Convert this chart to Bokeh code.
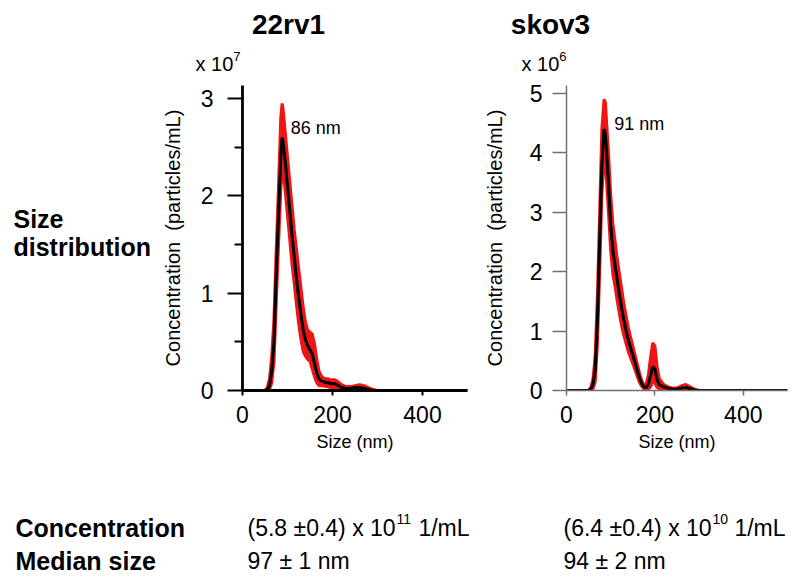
from bokeh.plotting import figure
from bokeh.layouts import row, column
from bokeh.models import Label, FixedTicker, Range1d
from bokeh.embed import file_html
from bokeh.resources import INLINE

# ---------------- data ----------------
size_nm = [0, 40, 50, 55, 60, 65, 70, 75, 80, 85, 88, 90, 95, 100, 105, 110, 115, 120, 125,
           130, 135, 140, 145, 150, 155, 160, 165, 170, 175, 180, 185, 190, 195, 200, 205,
           210, 220, 230, 240, 250, 260, 270, 280, 290, 300, 350, 400, 450, 500]

# 22rv1, concentration in units of 1e7 particles/mL
rv1_mean = [0, 0, 0, 0.01, 0.05, 0.2, 0.5, 1.2, 1.8, 2.4, 2.6, 2.55, 2.35, 2.1, 1.85, 1.6, 1.38, 1.15, 0.95,
            0.78, 0.62, 0.52, 0.46, 0.42, 0.37, 0.28, 0.18, 0.12, 0.1, 0.09, 0.08, 0.08, 0.07, 0.07, 0.07,
            0.06, 0.03, 0.02, 0.02, 0.03, 0.03, 0.02, 0.01, 0, 0, 0, 0, 0, 0]
rv1_hi = [0, 0, 0, 0.03, 0.12, 0.35, 0.75, 1.45, 2.1, 2.8, 2.95, 2.9, 2.65, 2.4, 2.15, 1.9, 1.65, 1.45, 1.25,
          1.05, 0.85, 0.7, 0.62, 0.6, 0.58, 0.48, 0.32, 0.2, 0.15, 0.13, 0.12, 0.12, 0.11, 0.11, 0.11,
          0.1, 0.06, 0.04, 0.04, 0.05, 0.06, 0.05, 0.03, 0.01, 0, 0, 0, 0, 0]
rv1_lo = [0, 0, 0, 0, 0.01, 0.08, 0.3, 0.9, 1.5, 2.05, 2.3, 2.25, 2.05, 1.8, 1.55, 1.3, 1.1, 0.88, 0.68,
          0.52, 0.4, 0.35, 0.32, 0.3, 0.22, 0.14, 0.08, 0.05, 0.05, 0.05, 0.04, 0.04, 0.03, 0.03, 0.03,
          0.03, 0.01, 0, 0, 0.01, 0.01, 0, 0, 0, 0, 0, 0, 0, 0]

# skov3, concentration in units of 1e6 particles/mL
sk_mean = [0, 0, 0, 0.03, 0.1, 0.35, 1.2, 2.5, 3.8, 4.4, 4.3, 4.1, 3.5, 2.8, 2.35, 2.1, 1.85, 1.6, 1.38,
           1.18, 1.0, 0.85, 0.72, 0.6, 0.47, 0.34, 0.22, 0.12, 0.06, 0.05, 0.1, 0.25, 0.4, 0.36, 0.18,
           0.1, 0.06, 0.04, 0.02, 0.02, 0.04, 0.05, 0.03, 0.01, 0, 0, 0, 0, 0]
sk_hi = [0, 0, 0, 0.05, 0.2, 0.6, 1.6, 3.0, 4.4, 4.9, 4.85, 4.6, 4.0, 3.3, 2.8, 2.5, 2.2, 1.95, 1.7,
         1.45, 1.25, 1.05, 0.9, 0.75, 0.6, 0.45, 0.3, 0.17, 0.1, 0.1, 0.25, 0.55, 0.8, 0.75, 0.4,
         0.2, 0.1, 0.06, 0.04, 0.04, 0.08, 0.1, 0.06, 0.02, 0, 0, 0, 0, 0]
sk_lo = [0, 0, 0, 0.01, 0.03, 0.15, 0.8, 2.0, 3.3, 3.9, 3.8, 3.6, 3.0, 2.35, 1.95, 1.75, 1.5, 1.28, 1.08,
         0.92, 0.78, 0.65, 0.55, 0.45, 0.35, 0.24, 0.14, 0.07, 0.03, 0.02, 0.02, 0.06, 0.15, 0.12, 0.05,
         0.03, 0.02, 0.01, 0, 0, 0.01, 0.02, 0.01, 0, 0, 0, 0, 0, 0]

x_ticks = [0, 200, 400]
rv1_yticks = [0, 1, 2, 3]
rv1_minor = [0.5, 1.5, 2.5]
sk_yticks = [0, 1, 2, 3, 4, 5]

titles = ["22rv1", "skov3"]
peak_labels = ["86 nm", "91 nm"]
y_exponents = ["7", "6"]
row_labels = ["Size", "distribution", "Concentration", "Median size"]
conc_mantissa = ["(5.8 \u00b10.4) x 10", "(6.4 \u00b10.4) x 10"]
conc_exponent = ["11", "10"]
conc_unit = "1/mL"
median_text = ["97 \u00b1 1 nm", "94 \u00b1 2 nm"]

FONT = "Liberation Sans"
RED = "#f01414"
TOP, BOTTOM = 9, 70          # shared frame borders of the middle row


def txt(p, x, y, text, size, style="normal", align="left", base="middle"):
    p.add_layout(Label(x=x, y=y, text=text, text_font=FONT,
                       text_font_size=f"{size}px", text_font_style=style,
                       text_align=align, text_baseline=base, text_color="black"))


def text_width(s, size):
    # Arial / Liberation Sans advance widths (em) for the characters used here
    w = {"(": .333, ")": .333, ".": .278, " ": .278, "\u00b1": .584, "x": .5, "/": .278,
         "m": .833, "L": .556}
    return sum(w.get(c, .556) for c in s) * size


def strip(width, height, x0, y0, top=0, bottom=0):
    # a text-only figure whose data coordinates equal picture pixel coordinates
    p = figure(width=width, height=height, output_backend="svg", toolbar_location=None,
               title=None, x_axis_location=None, y_axis_location=None,
               min_border_left=0, min_border_right=0, min_border_top=top, min_border_bottom=bottom,
               x_range=Range1d(x0, x0 + width), y_range=Range1d(y0 + height - bottom, y0 + top))
    p.outline_line_color = None
    p.grid.visible = False
    return p


def chart(width, left, right, ymax, axis_color, axis_w, tick_w, lab_standoff):
    p = figure(width=width, height=384, output_backend="svg", toolbar_location=None, title=None,
               x_range=Range1d(0, 500), y_range=Range1d(0, ymax),
               min_border_left=left, min_border_right=right,
               min_border_top=TOP, min_border_bottom=BOTTOM)
    p.outline_line_color = None
    p.grid.visible = False
    for ax in (p.xaxis[0], p.yaxis[0]):
        ax.axis_line_color = axis_color
        ax.axis_line_width = axis_w
        ax.major_tick_line_color = axis_color
        ax.major_tick_line_width = tick_w
        ax.major_tick_in = 0
        ax.minor_tick_line_color = None
        ax.major_label_text_font = FONT
        ax.major_label_text_color = "black"
        ax.major_label_text_font_size = "23px"
        ax.axis_label_text_font = FONT
        ax.axis_label_text_font_style = "normal"
        ax.axis_label_text_color = "black"
    p.xaxis.ticker = FixedTicker(ticks=x_ticks)
    p.xaxis.major_tick_out = 5
    p.xaxis.major_label_standoff = 10
    p.xaxis.axis_label = "Size (nm)"
    p.xaxis.axis_label_text_font_size = "18px"
    p.xaxis.axis_label_standoff = 6
    p.yaxis.axis_label = "Concentration\u00a0 (particles/mL)"
    p.yaxis.axis_label_text_font_size = "20px"
    p.yaxis.axis_label_standoff = lab_standoff
    return p


# ---------- left chart (x 155..480) ----------
pL = chart(325, 87, 13, 3.135, "black", 2.8, 2, 14)
pL.yaxis.ticker = FixedTicker(ticks=rv1_yticks, minor_ticks=rv1_minor)
pL.yaxis.minor_tick_line_color = "black"
pL.yaxis.minor_tick_line_width = 2
pL.yaxis.minor_tick_out = 8
pL.yaxis.minor_tick_in = 0
pL.yaxis.major_tick_out = 15
pL.yaxis.major_label_standoff = 14

# ---------- right chart (x 480..790) ----------
pR = chart(310, 85, 3, 5.135, "#707070", 1.5, 1.5, 21)
pR.yaxis.ticker = FixedTicker(ticks=sk_yticks)
pR.yaxis.major_tick_out = 14
pR.yaxis.major_label_standoff = 10

for p, lo, hi, mean in ((pL, rv1_lo, rv1_hi, rv1_mean), (pR, sk_lo, sk_hi, sk_mean)):
    p.varea(x=size_nm, y1=lo, y2=hi, color=RED)
    p.line(x=size_nm, y=lo, color=RED, line_width=3)
    p.line(x=size_nm, y=hi, color=RED, line_width=3)
    p.line(x=size_nm, y=mean, color="black", line_width=3)

txt(pL, 107, 2.70, peak_labels[0], 18)
txt(pR, 108, 4.48, peak_labels[1], 18)

# ---------- side text (x 0..155) ----------
pS = strip(155, 384, 0, 76, TOP, BOTTOM)
txt(pS, 13, 218, row_labels[0], 25, "bold")
txt(pS, 13, 246, row_labels[1], 25, "bold")

# ---------- top strip (y 0..76) ----------
pT = strip(790, 76, 0, 0)
txt(pT, 288, 24, titles[0], 28, "bold", "center")
txt(pT, 550, 24, titles[1], 28, "bold", "center")
for x0, e in ((195, y_exponents[0]), (521, y_exponents[1])):
    txt(pT, x0, 63, "x 10", 20)
    txt(pT, x0 + text_width("x 10", 20), 56, e, 13)

# ---------- bottom strip (y 460..576) ----------
pB = strip(790, 116, 0, 460)
txt(pB, 15, 527, row_labels[2], 25, "bold")
txt(pB, 15, 560, row_labels[3], 25, "bold")
for x0, man, ex, med in ((247, conc_mantissa[0], conc_exponent[0], median_text[0]),
                         (563, conc_mantissa[1], conc_exponent[1], median_text[1])):
    xe = x0 + text_width(man, 23)
    txt(pB, x0, 527, man, 23)
    txt(pB, xe, 518, ex, 14)
    txt(pB, xe + text_width(ex, 14) + text_width(" ", 23), 527, conc_unit, 23)
    txt(pB, x0, 560, med, 23)

layout = column(pT, row(pS, pL, pR, spacing=0), pB, spacing=0)
open("out.html", "w").write(file_html(layout, INLINE))
